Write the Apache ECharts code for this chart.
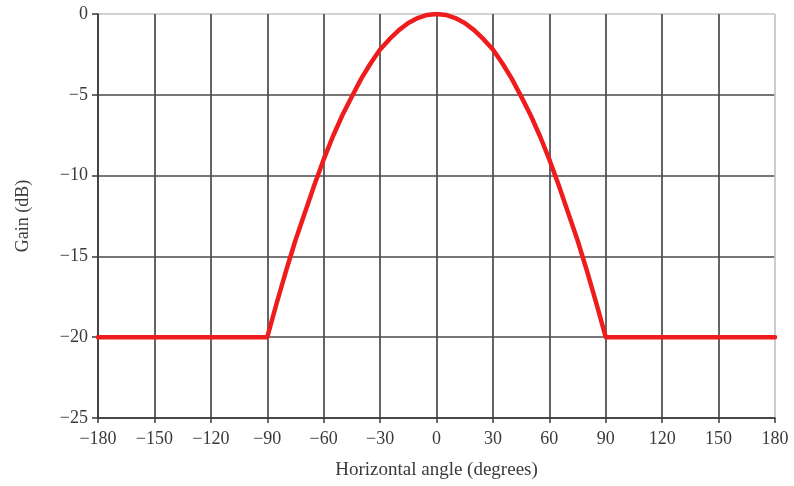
<!DOCTYPE html>
<html>
<head>
<meta charset="utf-8">
<title>Gain vs horizontal angle</title>
<script src="https://cdn.jsdelivr.net/npm/echarts@6/dist/echarts.min.js"></script>
<style>
  html, body { margin: 0; padding: 0; background: #fff; }
  #chart { width: 794px; height: 486px; }
</style>
</head>
<body>
<div id="chart"></div>
<script>
// Antenna horizontal pattern: gain (dB) against azimuth angle (degrees)
var angles = [-180, -90, -85, -80, -75, -70, -65, -60, -55, -50, -45, -40, -35, -30, -25, -20, -15, -10, -5,
              0, 5, 10, 15, 20, 25, 30, 35, 40, 45, 50, 55, 60, 65, 70, 75, 80, 85, 90, 180];
var gain = [-20, -20, -17.9, -15.9, -14.0, -12.3, -10.6, -9.0, -7.55, -6.25, -5.1, -4.0, -3.05, -2.2, -1.56, -1.0, -0.56, -0.25, -0.06,
            0, -0.06, -0.25, -0.56, -1.0, -1.56, -2.2, -3.05, -4.0, -5.1, -6.25, -7.55, -9.0, -10.6, -12.3, -14.0, -15.9, -17.9, -20, -20];

var xMin = -180, xMax = 180, xStep = 30;
var yMin = -25, yMax = 0, yStep = 5;

var xName = 'Horizontal angle (degrees)';
var yName = 'Gain (dB)';

var serif = '"Liberation Serif", "Times New Roman", serif';
var textColor = '#3a3a3a';

function minusSign(v) {
  return String(v).replace('-', '\u2212');
}

// grid line colours: dark inside, pale along the top and right edges
var xLineColors = [];
for (var i = xMin; i <= xMax; i += xStep) xLineColors.push(i === xMax ? '#c4c4c4' : '#4a4a4a');
var yLineColors = [];
for (var j = yMin; j <= yMax; j += yStep) yLineColors.push(j === yMax ? '#c4c4c4' : '#4a4a4a');

var points = angles.map(function (a, k) { return [a, gain[k]]; });

var chart = echarts.init(document.getElementById('chart'), null, { renderer: 'canvas' });
chart.setOption({
  animation: false,
  backgroundColor: '#ffffff',
  grid: { left: 98, right: 19, top: 14, bottom: 68 },
  xAxis: {
    type: 'value',
    min: xMin, max: xMax, interval: xStep,
    name: xName,
    nameLocation: 'middle',
    nameGap: 43,
    nameTextStyle: { fontFamily: serif, fontSize: 19, color: textColor },
    axisLine: { show: true, onZero: false, lineStyle: { color: '#3a3a3a', width: 1.5 } },
    axisTick: { show: true, length: 5, lineStyle: { color: '#3a3a3a', width: 1.5 } },
    axisLabel: { fontFamily: serif, fontSize: 18, color: textColor, margin: 12, formatter: minusSign },
    splitLine: { show: true, lineStyle: { color: xLineColors, width: 1.7 } }
  },
  yAxis: {
    type: 'value',
    min: yMin, max: yMax, interval: yStep,
    name: yName,
    nameLocation: 'middle',
    nameGap: 66,
    nameRotate: 90,
    nameTextStyle: { fontFamily: serif, fontSize: 18, color: textColor },
    axisLine: { show: true, onZero: false, lineStyle: { color: '#3a3a3a', width: 1.5 } },
    axisTick: { show: true, length: 6, lineStyle: { color: '#3a3a3a', width: 1.5 } },
    axisLabel: { fontFamily: serif, fontSize: 18, color: textColor, margin: 10, formatter: minusSign },
    splitLine: { show: true, lineStyle: { color: yLineColors, width: 1.7 } }
  },
  series: [{
    type: 'line',
    data: points,
    showSymbol: false,
    smooth: false,
    lineStyle: { color: '#ee1c1c', width: 4.5, join: 'round', cap: 'round' },
    itemStyle: { color: '#ee1c1c' },
    z: 5
  }]
});
</script>
</body>
</html>
